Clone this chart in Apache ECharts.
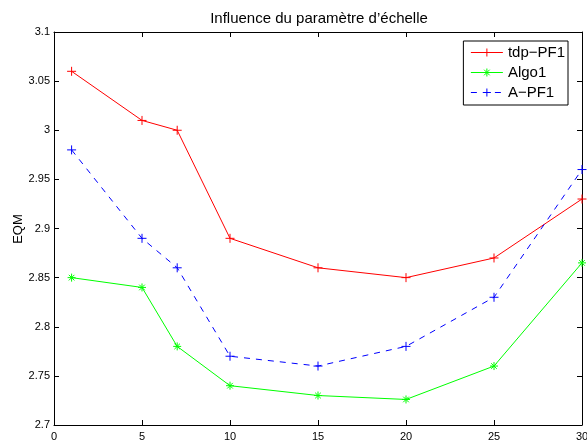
<!DOCTYPE html>
<html><head><meta charset="utf-8">
<script src="https://cdn.jsdelivr.net/npm/echarts@6/dist/echarts.min.js"></script>
<style>html,body{margin:0;padding:0;background:#fff}#c{width:587px;height:441px}</style>
</head><body><div id="c"></div>
<script>
const xValues = [1, 5, 7, 10, 15, 20, 25, 30];
const tdpPF1 = [3.06, 3.01, 3.00, 2.89, 2.86, 2.85, 2.87, 2.93];
const algo1 = [2.85, 2.84, 2.78, 2.74, 2.73, 2.726, 2.76, 2.865];
const aPF1 = [2.98, 2.89, 2.86, 2.77, 2.76, 2.78, 2.83, 2.96];
const seriesNames = ['tdp\u2212PF1', 'Algo1', 'A\u2212PF1'];
const titleText = 'Influence du param\u00e8tre d\u2019\u00e9chelle';
const yName = 'EQM';

const plus = 'path://M5,0L5,10M0,5L10,5';
const star = 'path://M5,0L5,10M0,5L10,5M1.5,1.5L8.5,8.5M1.5,8.5L8.5,1.5';
const pair = (ys) => xValues.map((x, i) => [x, ys[i]]);
const font = 'Liberation Sans, Arial, Helvetica, sans-serif';

const chart = echarts.init(document.getElementById('c'));
const axisCommon = {
  axisLine: {show: true, onZero: false, lineStyle: {color: '#000', width: 1}},
  axisTick: {show: true, inside: true, length: 5, lineStyle: {color: '#000'}},
  splitLine: {show: false}
};
chart.setOption({
  animation: false,
  backgroundColor: '#fff',
  title: {text: titleText, left: 314, top: 6, textAlign: 'center',
    textStyle: {fontFamily: font, fontSize: 15, fontWeight: 'normal', color: '#000'}},
  graphic: [{type: 'text', x: 18, y: 229, rotation: Math.PI / 2,
    style: {text: yName, fontFamily: font, fontSize: 13, fill: '#000',
      textAlign: 'center', textVerticalAlign: 'middle'}}],
  grid: {left: 54, right: 5, top: 32, bottom: 16, containLabel: false, outerBoundsMode: 'none'},
  legend: {
    right: 19, top: 41, orient: 'vertical', itemWidth: 32, itemHeight: 10, itemGap: 5,
    padding: [4, 3, 5, 7],
    borderColor: '#000', borderWidth: 1, backgroundColor: '#fff',
    lineStyle: {width: 1},
    itemStyle: {borderWidth: 1},
    textStyle: {fontFamily: font, fontSize: 15, color: '#000'},
    data: seriesNames
  },
  xAxis: [
    Object.assign({type: 'value', min: 0, max: 30, interval: 5, position: 'bottom',
      axisLabel: {fontFamily: font, fontSize: 11, color: '#000', margin: 6}}, axisCommon),
    Object.assign({type: 'value', min: 0, max: 30, interval: 5, position: 'top',
      axisLabel: {show: false}}, axisCommon)
  ],
  yAxis: [
    Object.assign({type: 'value', min: 2.7, max: 3.1, interval: 0.05, position: 'left',
      axisLabel: {fontFamily: font, fontSize: 11, color: '#000', margin: 4}}, axisCommon),
    Object.assign({type: 'value', min: 2.7, max: 3.1, interval: 0.05, position: 'right',
      axisLabel: {show: false}}, axisCommon)
  ],
  series: [
    {name: seriesNames[0], type: 'line', data: pair(tdpPF1), symbol: plus, symbolSize: 9,
      showAllSymbol: true,
      itemStyle: {color: '#ff0000', borderColor: '#ff0000', borderWidth: 1},
      lineStyle: {color: '#ff0000', width: 1}},
    {name: seriesNames[1], type: 'line', data: pair(algo1), symbol: star, symbolSize: 8,
      showAllSymbol: true,
      itemStyle: {color: '#00ff00', borderColor: '#00ff00', borderWidth: 1},
      lineStyle: {color: '#00ff00', width: 1}},
    {name: seriesNames[2], type: 'line', data: pair(aPF1), symbol: plus, symbolSize: 9,
      showAllSymbol: true,
      itemStyle: {color: '#0000ff', borderColor: '#0000ff', borderWidth: 1},
      lineStyle: {color: '#0000ff', width: 1, type: [6, 6]}}
  ]
});
</script></body></html>
